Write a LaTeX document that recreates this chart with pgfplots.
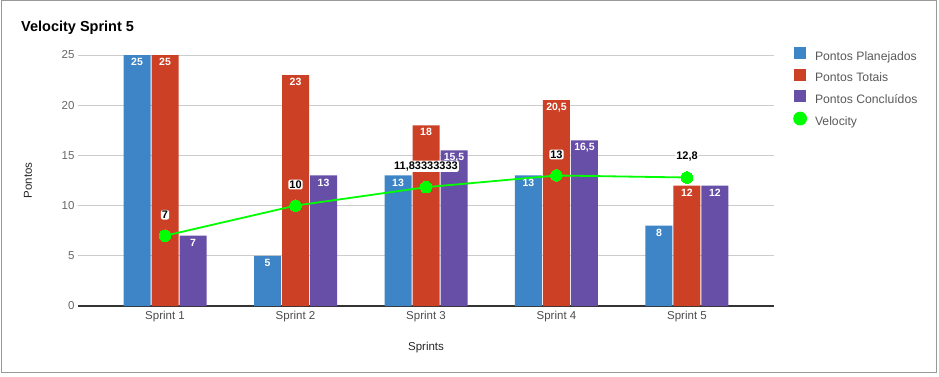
\documentclass[border=0pt]{standalone}
\usepackage{fontspec}
\setmainfont{Liberation Sans}
\usepackage{pgfplots}
\usepackage{pgfplotstable}
\pgfplotsset{compat=1.18}
\definecolor{cblue}{HTML}{3D85C6}
\definecolor{cred}{HTML}{CC4125}
\definecolor{cpurple}{HTML}{674EA7}
\definecolor{cgreen}{HTML}{00FF00}
\definecolor{gridc}{HTML}{CCCCCC}
\definecolor{tickc}{HTML}{666666}

\pgfplotstableread{
x y label
0 25 25
1 5 5
2 13 13
3 13 13
4 8 8
}\planejados
\pgfplotstableread{
x y label
0 25 25
1 23 23
2 18 18
3 20.5 20,5
4 12 12
}\totais
\pgfplotstableread{
x y label
0 7 7
1 13 13
2 15.5 15,5
3 16.5 16,5
4 12 12
}\concluidos
\pgfplotstableread{
x y label
0 7 7
1 10 10
2 11.8333333 11,83333333
3 13 13
4 12.8 12,8
}\velocity

\begin{document}
\begin{tikzpicture}[x=1pt,y=1pt]
\useasboundingbox (0,0) rectangle (939,376);
\draw[color=black!40, line width=1pt] (1,4) rectangle (936,375);
\node[anchor=west, font=\bfseries\fontsize{14.5}{16}\selectfont, inner sep=0pt] at (21,348) {Velocity Sprint 5};
\begin{axis}[
  at={(78pt,70pt)}, anchor=south west,
  scale only axis, width=696pt, height=251pt,
  xmin=-0.667, xmax=4.667, ymin=0, ymax=25,
  ytick={0,5,...,25},
  xtick={0,1,2,3,4},
  xticklabels={Sprint 1,Sprint 2,Sprint 3,Sprint 4,Sprint 5},
  /pgf/number format/assume math mode=true,
  axis x line*=bottom, axis y line*=left,
  x axis line style={-, draw=black!80, line width=1.2pt},
  y axis line style={draw=none},
  major tick length=0pt,
  ymajorgrids, grid style={gridc, line width=0.8pt},
  yticklabel style={font=\fontsize{11.5}{13}\selectfont, text=tickc},
  xticklabel style={font=\fontsize{11.5}{13}\selectfont, text=black!70, yshift=-2pt},
  xlabel={Sprints}, ylabel={Pontos},
  xlabel style={font=\fontsize{11.5}{13}\selectfont, text=black!85, at={(axis description cs:0.5,-0.167)}, anchor=center},
  ylabel style={font=\fontsize{11.5}{13}\selectfont, text=black!85, at={(axis description cs:-0.0718,0.5)}, anchor=center},
  clip=false,
  legend style={at={(axis description cs:1.0273,1.032)}, anchor=north west, draw=none, fill=none, inner sep=0pt,
    row sep=6pt, column sep=8pt,
    nodes={inner sep=0pt, text height=8.5pt, text depth=2.5pt, font=\fontsize{12.2}{14}\selectfont, text=black!65}},
  legend cell align=left,
]
\addplot[ybar, bar width=27pt, bar shift=-28pt, fill=cblue, draw=none,
  nodes near coords, point meta=explicit symbolic,
  every node near coord/.append style={anchor=center, xshift=-28pt, yshift=-7pt, text=white, font=\bfseries\fontsize{10.5}{12}\selectfont},
  legend image code/.code={\fill[cblue] (0pt,-2pt) rectangle (12pt,10pt);}]
  table[x=x, y=y, meta=label] {\planejados};
\addlegendentry{Pontos Planejados}
\addplot[ybar, bar width=27pt, bar shift=0pt, fill=cred, draw=none,
  nodes near coords, point meta=explicit symbolic,
  every node near coord/.append style={anchor=center, yshift=-7pt, text=white, font=\bfseries\fontsize{10.5}{12}\selectfont},
  legend image code/.code={\fill[cred] (0pt,-2pt) rectangle (12pt,10pt);}]
  table[x=x, y=y, meta=label] {\totais};
\addlegendentry{Pontos Totais}
\addplot[ybar, bar width=27pt, bar shift=28pt, fill=cpurple, draw=none,
  nodes near coords, point meta=explicit symbolic,
  every node near coord/.append style={anchor=center, xshift=28pt, yshift=-7pt, text=white, font=\bfseries\fontsize{10.5}{12}\selectfont},
  legend image code/.code={\fill[cpurple] (0pt,-2pt) rectangle (12pt,10pt);}]
  table[x=x, y=y, meta=label] {\concluidos};
\addlegendentry{Pontos Conclu\'idos}
\addplot[sharp plot, cgreen, line width=1.8pt, mark=*, mark size=5.8pt, mark options={fill=cgreen, draw=cgreen, line width=0pt},
  nodes near coords, point meta=explicit symbolic,
  every node near coord/.append style={anchor=center, yshift=21pt, text=black, fill=white, rounded corners=2pt, inner sep=1pt, font=\bfseries\fontsize{11}{12}\selectfont},
  legend image code/.code={\fill[cgreen] (6pt,4pt) circle (6pt);}]
  table[x=x, y=y, meta=label] {\velocity};
\addlegendentry{Velocity}
\end{axis}
\end{tikzpicture}
\end{document}
